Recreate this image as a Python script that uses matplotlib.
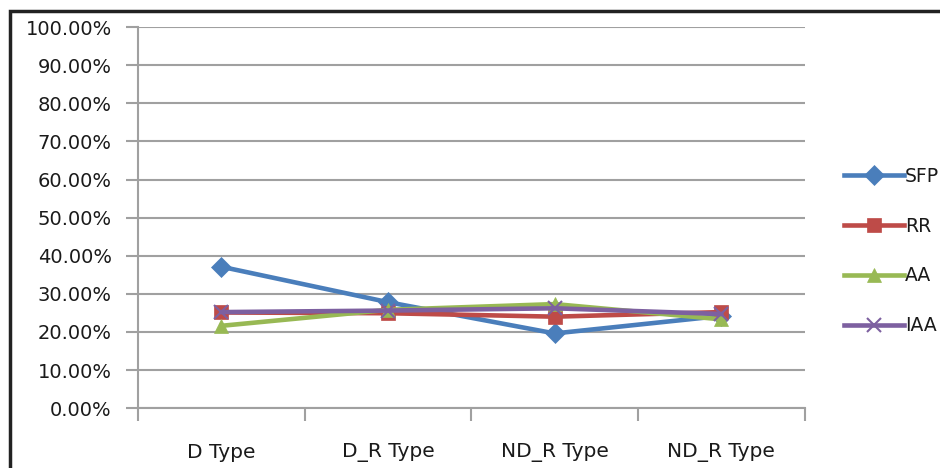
import matplotlib
matplotlib.use("Agg")
import matplotlib.pyplot as plt
from matplotlib.ticker import PercentFormatter

categories = ["D Type", "D_R Type", "ND_R Type", "ND_R Type"]

sfp = [37.1, 27.8, 19.6, 24.2]
rr = [25.1, 24.9, 24.0, 25.2]
aa = [21.6, 25.8, 27.3, 23.3]
iaa = [25.2, 25.6, 26.2, 24.7]

y_ticks = list(range(0, 101, 10))

series = [
    ("SFP", sfp, "#4A7EBB", "D", 10),
    ("RR", rr, "#BE4B48", "s", 10),
    ("AA", aa, "#98B954", "^", 10),
    ("IAA", iaa, "#7D60A0", "x", 10),
]

fig = plt.figure(figsize=(9.4, 4.68), dpi=100)
ax = fig.add_axes([0.147, 0.128, 0.709, 0.814])

x = [i + 0.5 for i in range(len(categories))]

for name, vals, color, marker, ms in series:
    ax.plot(
        x, vals,
        color=color,
        linewidth=3.3,
        marker=marker,
        markersize=ms,
        markeredgewidth=1.5 if marker == "x" else 0.5,
        markeredgecolor=color,
        label=name,
        zorder=3
    )

ax.set_xlim(0, len(categories))
ax.set_ylim(0, 100)

ax.set_yticks(y_ticks)
ax.yaxis.set_major_formatter(PercentFormatter(decimals=2))
ax.set_xticks(range(len(categories) + 1))
ax.set_xticks(x, minor=True)
ax.set_xticklabels([])
ax.set_xticklabels(categories, minor=True)

ax.grid(axis="y", color="#A0A0A0", linewidth=1.5)
ax.set_axisbelow(True)

for side in ["top", "right"]:
    ax.spines[side].set_visible(False)
for side in ["left", "bottom"]:
    ax.spines[side].set_color("#A0A0A0")
    ax.spines[side].set_linewidth(1.5)

ax.tick_params(axis="y", which="major", length=9, width=1.5,
               color="#A0A0A0", labelsize=14, pad=10,
               labelcolor="#1a1a1a")
ax.tick_params(axis="x", which="major", length=9, width=1.5,
               color="#A0A0A0")
ax.tick_params(axis="x", which="minor", length=0, labelsize=14.5, pad=25,
               labelcolor="#1a1a1a")

ax.legend(
    loc="upper left",
    bbox_to_anchor=(0.89, 0.66),
    bbox_transform=fig.transFigure,
    frameon=False,
    fontsize=13.5,
    handlelength=3.2,
    handletextpad=0.05,
    labelspacing=1.65,
    borderaxespad=0,
    labelcolor="#1a1a1a"
)

# outer frame
fig.patches.append(plt.Rectangle(
    (0.0105, -0.05), 1.2, 1.027,
    transform=fig.transFigure,
    fill=False, edgecolor="#222222", linewidth=2.5
))

fig.savefig("out.png", dpi=100)
plt.close()
